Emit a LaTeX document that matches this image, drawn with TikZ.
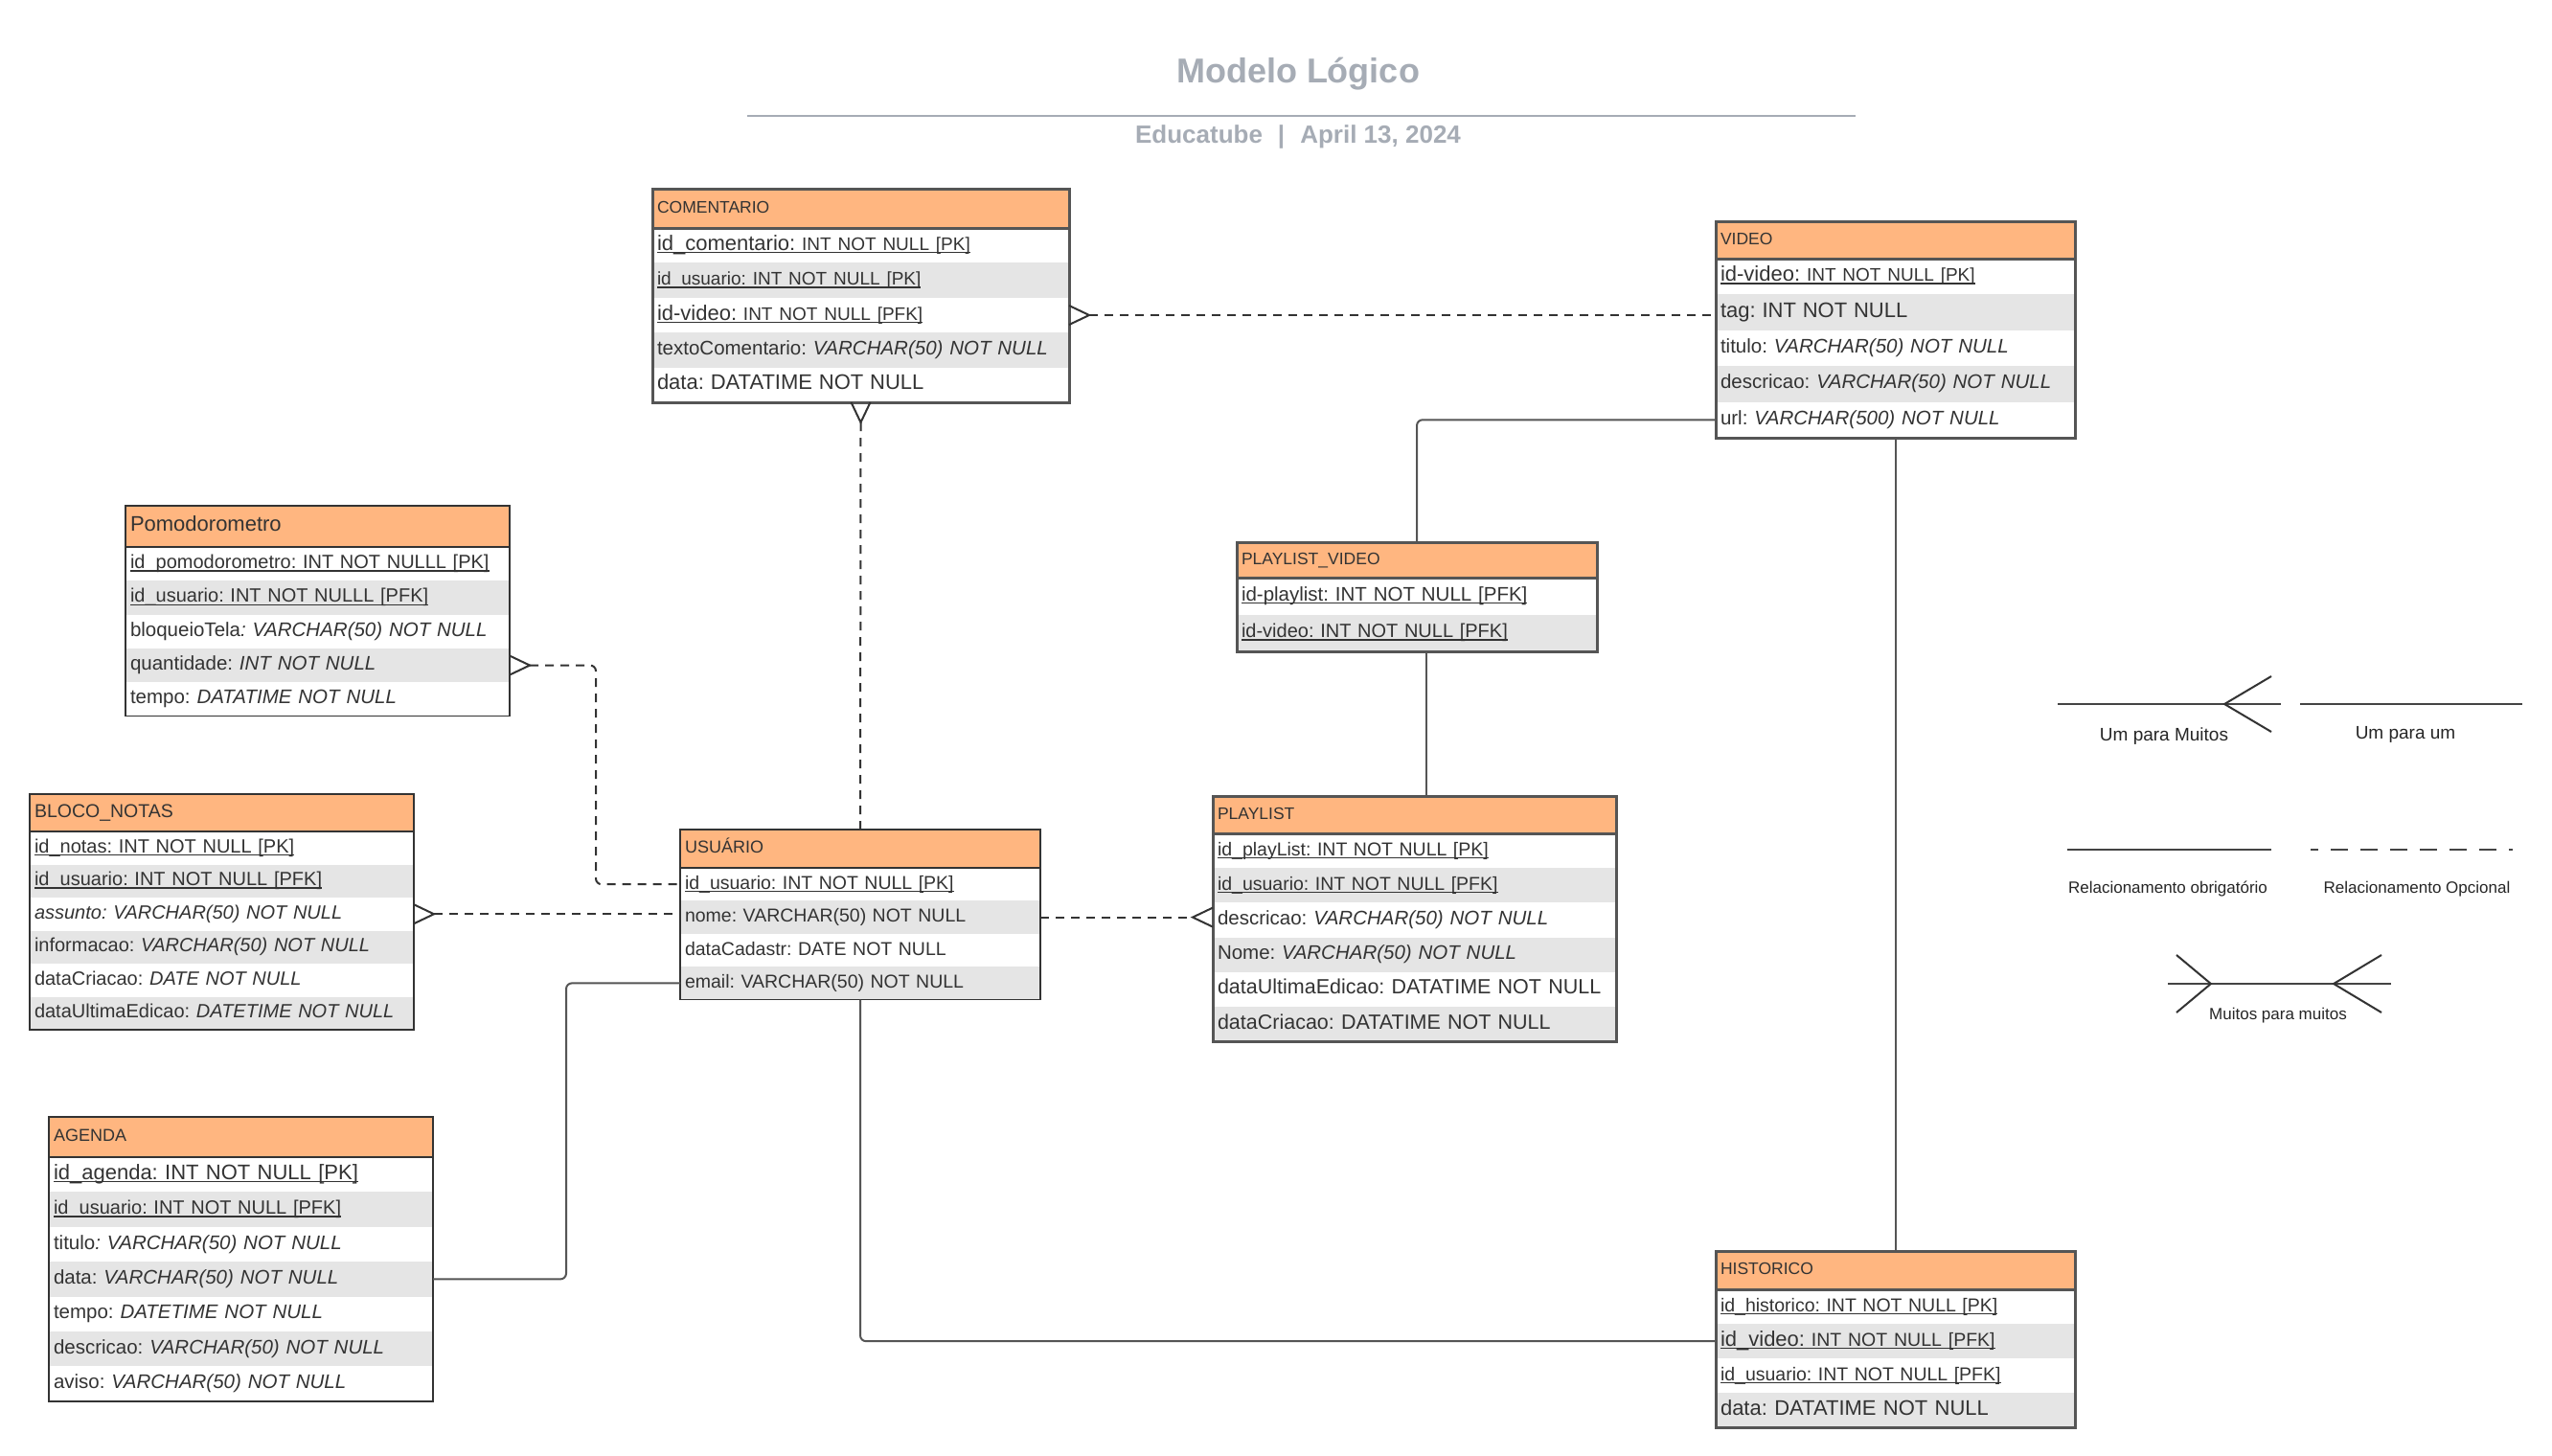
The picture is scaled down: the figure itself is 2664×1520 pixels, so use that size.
\documentclass[tikz,border=0pt]{standalone}
\usepackage{fontspec}
\setmainfont{Liberation Sans}
\usetikzlibrary{positioning}

\definecolor{hdor}{RGB}{255,182,128}
\definecolor{rowgr}{RGB}{229,229,229}
\definecolor{ink}{RGB}{51,51,51}
\definecolor{edge}{RGB}{85,85,85}
\definecolor{ttlgray}{RGB}{166,172,181}
\definecolor{lgdgray}{RGB}{68,68,68}

\frenchspacing
\newcommand\fs[1]{\fontsize{#1}{#1}\selectfont}
\newsavebox\ulbox
\newcommand\ul[1]{\sbox\ulbox{#1}\leavevmode\rlap{\rule[-3pt]{\wd\ulbox}{1.4pt}}\usebox\ulbox}

\begin{document}
\begin{tikzpicture}[
	x=1pt, y=-1pt
	,every node/.append style={inner sep=0pt, outer sep=0pt, text=ink}
	,hd/.style={draw=edge, fill=hdor, anchor=north west, inner xsep=5pt, align=left, font=\fs{17.5}, text height=13pt, text depth=4pt}
	,rw/.style={below=0pt of #1, inner xsep=5pt, align=left, font=\fs{20.5}, text height=15pt, text depth=5pt}
	,gr/.style={fill=rowgr}
	,opt/.style={draw=ink, line width=2pt, dash pattern=on 9pt off 7pt, rounded corners=6pt}
	,req/.style={draw=edge, line width=2pt, rounded corners=6pt}
	,lgd/.style={draw=lgdgray, line width=2pt}
	,lgt/.style={text=black!85, font=\fs{19}}
	,lgs/.style={text=black!85, font=\fs{17}}
	,ttl/.style={text=ttlgray, font=\bfseries\fs{36}}
	,crow/.pic={\draw[ink, line width=2pt] (0,-10) -- (21,0) -- (0,10);}
]
	\path[fill=white, use as bounding box] (0,0) rectangle (2664,1520);

	% title
	\node [ttl] (title) at (1355,77) {Modelo Lógico};
	\coordinate (tl1) at (780,121);
	\coordinate (tl2) at (1937,121);
	\draw [ttlgray, line width=2pt] (tl1) -- (tl2);
	\node [ttl, font=\bfseries\fs{26}] (sub) at (1355,143) {Educatube\hspace{16pt}|\hspace{16pt}April 13, 2024};

	% COMENTARIO
	\begin{scope}[line width=3pt, every node/.append style={text width=425pt, minimum height=36.4pt}]
		\node [hd, minimum height=41pt] (com) at (681,197) {COMENTARIO};
		\node [rw=com] (com1) {\ul{{\fs{22}id\_comentario:} {\fs{19}INT NOT NULL [PK]}}};
		\node [rw=com1, gr] (com2) {\fs{19}\ul{id\_usuario: INT NOT NULL [PK]}};
		\node [rw=com2] (com3) {\ul{{\fs{22}id-video:} {\fs{19}INT NOT NULL [PFK]}}};
		\node [rw=com3, gr] (com4) {textoComentario: \textit{VARCHAR(50) NOT NULL}};
		\node [rw=com4] (com5) {\fs{22}data: DATATIME NOT NULL};
		\draw [edge] (com.north west) rectangle (com5.south east);
	\end{scope}

	% VIDEO
	\begin{scope}[line width=3pt, every node/.append style={text width=365pt, minimum height=37.4pt}]
		\node [hd, minimum height=39pt] (vid) at (1791,231) {VIDEO};
		\node [rw=vid] (vid1) {\ul{{\fs{22}id-video:} {\fs{19}INT NOT NULL [PK]}}};
		\node [rw=vid1, gr] (vid2) {\fs{22}tag: INT NOT NULL};
		\node [rw=vid2] (vid3) {titulo: \textit{VARCHAR(50) NOT NULL}};
		\node [rw=vid3, gr] (vid4) {descricao: \textit{VARCHAR(50) NOT NULL}};
		\node [rw=vid4] (vid5) {url: \textit{VARCHAR(500) NOT NULL}};
		\draw [edge] (vid.north west) rectangle (vid5.south east);
	\end{scope}

	% Pomodorometro
	\begin{scope}[line width=1.5pt, every node/.append style={text width=391pt, minimum height=35.3pt}]
		\node [hd, draw=ink, minimum height=43pt, font=\fs{22}] (pom) at (131,528) {Pomodorometro};
		\node [rw=pom, font=\fs{20}] (pom1) {\ul{id\_pomodorometro: INT NOT NULLL [PK]}};
		\node [rw=pom1, gr, font=\fs{20}] (pom2) {\ul{id\_usuario: INT NOT NULLL [PFK]}};
		\node [rw=pom2] (pom3) {bloqueioTela\textit{: VARCHAR(50) NOT NULL}};
		\node [rw=pom3, gr] (pom4) {quantidade: \textit{INT NOT NULL}};
		\node [rw=pom4] (pom5) {tempo: \textit{DATATIME NOT NULL}};
		\draw [ink] (pom.north west) rectangle (pom5.south east);
	\end{scope}

	% BLOCO_NOTAS
	\begin{scope}[line width=1.5pt, every node/.append style={text width=391pt, minimum height=34.5pt}]
		\node [hd, draw=ink, minimum height=39pt, font=\fs{19.5}] (blo) at (31,829) {BLOCO\_NOTAS};
		\node [rw=blo, font=\fs{20}] (blo1) {\ul{id\_notas: INT NOT NULL [PK]}};
		\node [rw=blo1, gr, font=\fs{20}] (blo2) {\ul{id\_usuario: INT NOT NULL [PFK]}};
		\node [rw=blo2, font=\fs{20}] (blo3) {\textit{assunto: VARCHAR(50) NOT NULL}};
		\node [rw=blo3, gr, font=\fs{20}] (blo4) {informacao: \textit{VARCHAR(50) NOT NULL}};
		\node [rw=blo4, font=\fs{20}] (blo5) {dataCriacao: \textit{DATE NOT NULL}};
		\node [rw=blo5, gr, font=\fs{20}] (blo6) {dataUltimaEdicao: \textit{DATETIME NOT NULL}};
		\draw [ink] (blo.north west) rectangle (blo6.south east);
	\end{scope}

	% USUARIO
	\begin{scope}[line width=1.5pt, every node/.append style={text width=366pt, minimum height=34.4pt}]
		\node [hd, draw=ink, minimum height=40pt, font=\fs{18}] (usu) at (710,866) {USUÁRIO};
		\node [rw=usu, font=\fs{19.5}] (usu1) {\ul{id\_usuario: INT NOT NULL [PK]}};
		\node [rw=usu1, gr, font=\fs{19.5}] (usu2) {nome: VARCHAR(50) NOT NULL};
		\node [rw=usu2, font=\fs{19.5}] (usu3) {dataCadastr: DATE NOT NULL};
		\node [rw=usu3, gr, font=\fs{19.5}] (usu4) {email: VARCHAR(50) NOT NULL};
		\draw [ink] (usu.north west) rectangle (usu4.south east);
	\end{scope}

	% PLAYLIST_VIDEO
	\begin{scope}[line width=3pt, every node/.append style={text width=366pt, minimum height=38.5pt}]
		\node [hd, minimum height=37pt] (plv) at (1291,566) {PLAYLIST\_VIDEO};
		\node [rw=plv] (plv1) {\ul{id-playlist: INT NOT NULL [PFK]}};
		\node [rw=plv1, gr, font=\fs{20}] (plv2) {\ul{id-video: INT NOT NULL [PFK]}};
		\draw [edge] (plv.north west) rectangle (plv2.south east);
	\end{scope}

	% PLAYLIST
	\begin{scope}[line width=3pt, every node/.append style={text width=411pt, minimum height=36.2pt}]
		\node [hd, minimum height=39pt] (ply) at (1266,831) {PLAYLIST};
		\node [rw=ply, font=\fs{19.5}] (ply1) {\ul{id\_playList: INT NOT NULL [PK]}};
		\node [rw=ply1, gr, font=\fs{19.5}] (ply2) {\ul{id\_usuario: INT NOT NULL [PFK]}};
		\node [rw=ply2] (ply3) {descricao: \textit{VARCHAR(50) NOT NULL}};
		\node [rw=ply3, gr] (ply4) {Nome: \textit{VARCHAR(50) NOT NULL}};
		\node [rw=ply4, font=\fs{21.5}] (ply5) {dataUltimaEdicao: DATATIME NOT NULL};
		\node [rw=ply5, gr, font=\fs{21.5}] (ply6) {dataCriacao: DATATIME NOT NULL};
		\draw [edge] (ply.north west) rectangle (ply6.south east);
	\end{scope}

	% AGENDA
	\begin{scope}[line width=1.5pt, every node/.append style={text width=391pt, minimum height=36.4pt}]
		\node [hd, draw=ink, minimum height=42pt, font=\fs{18}] (age) at (51,1166) {AGENDA};
		\node [rw=age, font=\fs{22}] (age1) {\ul{id\_agenda: INT NOT NULL [PK]}};
		\node [rw=age1, gr, font=\fs{20}] (age2) {\ul{id\_usuario: INT NOT NULL [PFK]}};
		\node [rw=age2] (age3) {titulo\textit{: VARCHAR(50) NOT NULL}};
		\node [rw=age3, gr] (age4) {data: \textit{VARCHAR(50) NOT NULL}};
		\node [rw=age4] (age5) {tempo: \textit{DATETIME NOT NULL}};
		\node [rw=age5, gr] (age6) {descricao: \textit{VARCHAR(50) NOT NULL}};
		\node [rw=age6] (age7) {aviso: \textit{VARCHAR(50) NOT NULL}};
		\draw [ink] (age.north west) rectangle (age7.south east);
	\end{scope}

	% HISTORICO
	\begin{scope}[line width=3pt, every node/.append style={text width=365pt, minimum height=36.1pt}]
		\node [hd, minimum height=40pt] (his) at (1791,1306) {HISTORICO};
		\node [rw=his, font=\fs{19.5}] (his1) {\ul{id\_historico: INT NOT NULL [PK]}};
		\node [rw=his1, gr] (his2) {\ul{{\fs{22}id\_video:} {\fs{19.5}INT NOT NULL [PFK]}}};
		\node [rw=his2, font=\fs{19.5}] (his3) {\ul{id\_usuario: INT NOT NULL [PFK]}};
		\node [rw=his3, gr, font=\fs{22}] (his4) {data: DATATIME NOT NULL};
		\draw [edge] (his.north west) rectangle (his4.south east);
	\end{scope}

	% relacionamentos
	\coordinate (cv) at (com3.east -| vid2.west);
	\coordinate (up) at (usu2.east -| ply3.west);
	\draw [opt] ([xshift=21pt]com3.east) -- (cv);
	\draw [opt] ([yshift=-21pt]com5.south) -- (usu.north);
	\draw [opt] ([xshift=21pt]pom4.east) -- ([xshift=90pt]pom4.east) |- (usu1.west);
	\draw [opt] ([xshift=21pt]blo3.east) -- (blo3.east -| usu2.west);
	\draw [opt] (usu2.east) -- ([xshift=-21pt]up);
	\draw [req] (age4.east) -- ([xshift=139pt]age4.east) |- (usu4.west);
	\draw [req] (usu4.south) |- (his2.west);
	\draw [req] (vid5.south) -- (his.north);
	\draw [req] (vid5.west) -| (plv.north);
	\draw [req] ([xshift=10pt]plv2.south) -- ([xshift=10pt]plv2.south |- ply.north);

	\pic at (com3.east) {crow};
	\pic [rotate=-90] at (com5.south) {crow};
	\pic at (pom4.east) {crow};
	\pic at (blo3.east) {crow};
	\pic [rotate=180] at (up) {crow};

	% legenda
	\coordinate (l1a) at (2148,735);
	\coordinate (l1b) at (2381,735);
	\coordinate (l1c) at (2371,735);
	\coordinate (l2a) at (2401,735);
	\coordinate (l2b) at (2633,735);
	\coordinate (l3a) at (2158,887);
	\coordinate (l3b) at (2371,887);
	\coordinate (l4a) at (2412,887);
	\coordinate (l4b) at (2623,887);
	\coordinate (l5a) at (2263,1027);
	\coordinate (l5b) at (2496,1027);
	\coordinate (l5c) at (2272,1027);
	\coordinate (l5d) at (2486,1027);
	\draw [lgd] (l1a) -- (l1b);
	\pic [rotate=180, xscale=2.33, yscale=2.9] at (l1c) {crow};
	\draw [lgd] (l2a) -- (l2b);
	\draw [lgd] (l3a) -- (l3b);
	\draw [lgd, dash pattern=on 18pt off 13pt, dash phase=10pt] (l4a) -- (l4b);
	\draw [lgd] (l5a) -- (l5b);
	\pic [xscale=1.71, yscale=3] at (l5c) {crow};
	\pic [rotate=180, xscale=2.38, yscale=3] at (l5d) {crow};
	\node [lgt] (lgA) at (2259,769) {Um para Muitos};
	\node [lgt] (lgB) at (2511,767) {Um para um};
	\node [lgs] (lgC) at (2263,928) {Relacionamento obrigatório};
	\node [lgs] (lgD) at (2523,928) {Relacionamento Opcional};
	\node [lgs] (lgE) at (2378,1060) {Muitos para muitos};
\end{tikzpicture}
\end{document}
